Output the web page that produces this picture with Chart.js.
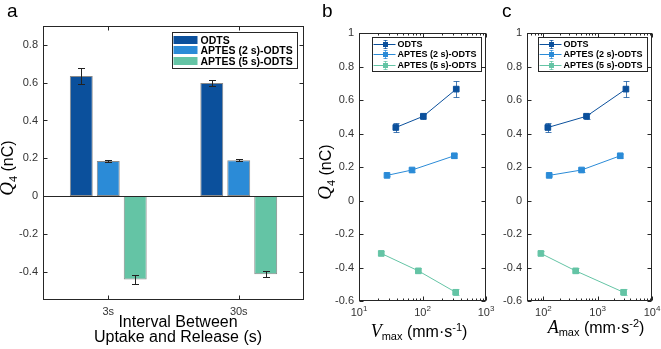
<!DOCTYPE html>
<html>
<head>
<meta charset="utf-8">
<script src="https://cdn.jsdelivr.net/npm/chart.js@4.4.0/dist/chart.umd.min.js"></script>
<style>
  html, body { margin: 0; padding: 0; background: #fff; }
  #wrap { position: relative; width: 661px; height: 349px; overflow: hidden; font-family: "Liberation Sans", Arial, sans-serif; }
  .panel { position: absolute; top: 0; height: 349px; }
  .tag { position: absolute; font-size: 19px; line-height: 19px; color: #000; }
</style>
</head>
<body>
<div id="wrap">
  <div class="panel" style="left:0;width:330px"><canvas id="chartA"></canvas></div>
  <div class="panel" style="left:312px;width:183px"><canvas id="chartB"></canvas></div>
  <div class="panel" style="left:495px;width:166px"><canvas id="chartC"></canvas></div>
  <div class="tag" style="left:7px;top:1px">a</div>
  <div class="tag" style="left:322px;top:1px">b</div>
  <div class="tag" style="left:502px;top:1px">c</div>
</div>
<script>
// ---- data ----
const intervals = ['3s', '30s'];
const seriesNames = ['ODTS', 'APTES (2 s)-ODTS', 'APTES (5 s)-ODTS'];

const barOdts = [0.636, 0.598];
const barOdtsErr = [0.042, 0.017];
const barAptes2 = [0.185, 0.189];
const barAptes2Err = [0.006, 0.005];
const barAptes5 = [-0.441, -0.414];
const barAptes5Err = [0.022, 0.015];

const vmaxOdts = [38, 103, 340];
const vmaxAptes2 = [27.6, 68.4, 317];
const vmaxAptes5 = [22.4, 86, 333];

const amaxOdts = [121, 623, 3310];
const amaxAptes2 = [128, 505, 2605];
const amaxAptes5 = [90, 393, 2994];

const q4Odts = [0.436, 0.503, 0.665];
const q4OdtsErr = [0.027, 0.015, 0.049];
const q4Aptes2 = [0.15, 0.182, 0.267];
const q4Aptes2Err = [0.006, 0.014, 0.013];
const q4Aptes5 = [-0.316, -0.42, -0.548];
const q4Aptes5Err = [0.012, 0.015, 0.018];

const yTicksBar = [-0.4, -0.2, 0, 0.2, 0.4, 0.6, 0.8];
const yTicksLine = [-0.6, -0.4, -0.2, 0, 0.2, 0.4, 0.6, 0.8, 1];

const colOdts = '#0b509c';
const colAptes2 = '#2b8bd7';
const colAptes5 = '#64c4a5';

const SANS = '"Liberation Sans", Arial, sans-serif';
const SERIF = '"Liberation Serif", "Times New Roman", serif';
const AXIS = '#262626';
const TICK_TXT = '#333';

// text made of pieces (italic letter, sub/superscripts), centred on cx
function drawParts(ctx, parts, cx, baseY, angle) {
  ctx.save();
  ctx.translate(cx, baseY);
  ctx.rotate(angle || 0);
  let w = 0;
  parts.forEach(p => { ctx.font = p.font; p.w = ctx.measureText(p.text).width; w += p.w; });
  let x = -w / 2;
  ctx.textBaseline = 'alphabetic';
  ctx.textAlign = 'left';
  parts.forEach(p => {
    ctx.font = p.font;
    ctx.fillStyle = p.color || '#000';
    ctx.fillText(p.text, x, p.dy || 0);
    x += p.w;
  });
  ctx.restore();
}

const q4Title = [
  {text: 'Q', font: `italic 19px ${SERIF}`},
  {text: '4', font: `12px ${SERIF}`, dy: 4},
  {text: ' (nC)', font: `16px ${SANS}`}
];

// box around the axes with inward ticks, matlab style
function boxAxes(cfg) {
  return {
    id: 'boxAxes',
    afterDatasetsDraw(chart) {
      const {ctx, chartArea: ca} = chart;
      const xs = chart.scales.x, ys = chart.scales.y;
      const L = Math.round(ca.left) + 0.5, R = Math.round(ca.right) - 0.5;
      const T = Math.round(ca.top) + 0.5, B = Math.round(ca.bottom) - 0.5;
      ctx.save();
      ctx.strokeStyle = AXIS;
      ctx.lineWidth = 1;
      ctx.beginPath();
      if (cfg.zeroLine) {
        const z = Math.round(ys.getPixelForValue(0)) + 0.5;
        ctx.moveTo(L, z); ctx.lineTo(R, z);
      }
      ys.ticks.forEach(t => {
        const py = Math.round(ys.getPixelForValue(t.value)) + 0.5;
        ctx.moveTo(L, py); ctx.lineTo(L + cfg.tick, py);
        ctx.moveTo(R, py); ctx.lineTo(R - cfg.tick, py);
      });
      const xt = [];
      if (xs.type === 'logarithmic') {
        const e0 = Math.floor(Math.log10(xs.min)), e1 = Math.ceil(Math.log10(xs.max));
        for (let e = e0; e <= e1; e++) {
          for (let k = 1; k < 10; k++) {
            const v = k * Math.pow(10, e);
            if (v >= xs.min * 0.999 && v <= xs.max * 1.001) xt.push([v, k === 1]);
          }
        }
      } else {
        xs.ticks.forEach((t, i) => xt.push([i, true]));
      }
      xt.forEach(([v, major]) => {
        const len = major ? cfg.tick : cfg.minor;
        const px = Math.round(xs.getPixelForValue(v)) + 0.5;
        ctx.moveTo(px, T); ctx.lineTo(px, T + len);
        ctx.moveTo(px, B); ctx.lineTo(px, B - len);
      });
      ctx.stroke();
      ctx.strokeRect(L, T, R - L, B - T);
      if (xs.type === 'logarithmic') {
        xt.filter(d => d[1]).forEach(([v]) => {
          const e = Math.round(Math.log10(v));
          drawParts(ctx, [
            {text: '10', font: `11px ${SANS}`, color: TICK_TXT},
            {text: String(e), font: `8px ${SANS}`, dy: -5, color: TICK_TXT}
          ], xs.getPixelForValue(v), ca.bottom + cfg.labelGap);
        });
      }
      ctx.restore();
    }
  };
}

function errorBars(color, cap, alpha) {
  return {
    id: 'errorBars',
    afterDatasetsDraw(chart) {
      const ctx = chart.ctx, ys = chart.scales.y;
      chart.data.datasets.forEach((ds, i) => {
        const meta = chart.getDatasetMeta(i);
        ctx.save();
        ctx.strokeStyle = color || ds.borderColor;
        ctx.globalAlpha = alpha;
        ctx.lineWidth = 1;
        ctx.beginPath();
        meta.data.forEach((el, j) => {
          const d = ds.data[j];
          const v = typeof d === 'object' ? d.y : d;
          const e = ds.errors[j];
          const px = Math.round(el.x) + 0.5;
          const t = Math.round(ys.getPixelForValue(v + e)) + 0.5;
          const b = Math.round(ys.getPixelForValue(v - e)) + 0.5;
          ctx.moveTo(px, t); ctx.lineTo(px, b);
          ctx.moveTo(px - cap, t); ctx.lineTo(px + cap, t);
          ctx.moveTo(px - cap, b); ctx.lineTo(px + cap, b);
        });
        ctx.stroke();
        ctx.restore();
      });
    }
  };
}

function boxLegend(cfg) {
  return {
    id: 'boxLegend',
    afterDraw(chart) {
      const {ctx, chartArea: ca} = chart;
      const items = chart.data.datasets;
      ctx.save();
      ctx.font = cfg.font;
      const textW = Math.max(...items.map(d => ctx.measureText(d.label).width));
      const w = Math.round(cfg.padL + cfg.sampleW + cfg.gap + textW + cfg.padR);
      const h = Math.round(items.length * cfg.rowH + cfg.padV * 2);
      const x0 = Math.round(ca.right - cfg.right - w) + 0.5;
      const y0 = Math.round(ca.top + cfg.top) + 0.5;
      ctx.fillStyle = '#fff';
      ctx.fillRect(x0, y0, w, h);
      ctx.strokeStyle = AXIS;
      ctx.lineWidth = 1;
      ctx.strokeRect(x0, y0, w, h);
      items.forEach((d, i) => {
        const cy = Math.round(y0 + cfg.padV + cfg.rowH * (i + 0.5));
        const sx = x0 + cfg.padL;
        if (cfg.kind === 'bar') {
          ctx.fillStyle = d.backgroundColor;
          ctx.fillRect(sx, cy - cfg.swatchH / 2, cfg.sampleW, cfg.swatchH);
        } else {
          const mx = Math.round(sx + cfg.sampleW / 2) + 0.5;
          ctx.strokeStyle = d.borderColor;
          ctx.beginPath();
          ctx.moveTo(sx, cy + 0.5); ctx.lineTo(sx + cfg.sampleW, cy + 0.5);
          ctx.stroke();
          ctx.globalAlpha = 0.75;
          ctx.beginPath();
          ctx.moveTo(mx, cy - 4); ctx.lineTo(mx, cy + 5);
          ctx.moveTo(mx - 2, cy - 3.5); ctx.lineTo(mx + 2, cy - 3.5);
          ctx.moveTo(mx - 2, cy + 4.5); ctx.lineTo(mx + 2, cy + 4.5);
          ctx.stroke();
          ctx.globalAlpha = 1;
          ctx.fillStyle = d.borderColor;
          ctx.fillRect(mx - 2.5, cy - 2, 5, 5);
        }
        ctx.fillStyle = '#000';
        ctx.font = cfg.font;
        ctx.textBaseline = 'middle';
        ctx.fillText(d.label, sx + cfg.sampleW + cfg.gap, cy + 1);
      });
      ctx.restore();
    }
  };
}

function axisTitles(list) {
  return {
    id: 'axisTitles',
    afterDraw(chart) {
      list.forEach(t => drawParts(chart.ctx, t.parts, t.x, t.y, t.angle));
    }
  };
}

function yScale(ticks, min, max, width) {
  return {
    type: 'linear',
    min: min,
    max: max,
    afterBuildTicks: s => { s.ticks = ticks.map(v => ({value: v})); },
    afterFit: s => { s.width = width; },
    grid: {display: false, drawTicks: false},
    border: {display: false},
    ticks: {
      padding: 5,
      color: TICK_TXT,
      font: {family: SANS, size: 11},
      callback: v => String(v)
    }
  };
}

// ---- panel a ----
new Chart(document.getElementById('chartA'), {
  type: 'bar',
  data: {
    labels: intervals,
    datasets: [
      {label: seriesNames[0], data: barOdts, errors: barOdtsErr, backgroundColor: colOdts},
      {label: seriesNames[1], data: barAptes2, errors: barAptes2Err, backgroundColor: colAptes2},
      {label: seriesNames[2], data: barAptes5, errors: barAptes5Err, backgroundColor: colAptes5}
    ]
  },
  options: {
    responsive: true,
    maintainAspectRatio: false,
    animation: false,
    devicePixelRatio: 1,
    layout: {padding: {top: 26, right: 26, left: 0, bottom: 0}},
    datasets: {
      bar: {
        categoryPercentage: 0.62,
        barPercentage: 0.85,
        borderColor: '#8a8a8a',
        borderWidth: 1,
        borderSkipped: false
      }
    },
    scales: {
      x: {
        type: 'category',
        afterFit: s => { s.height = 49; },
        grid: {display: false, drawTicks: false},
        border: {display: false},
        ticks: {padding: 5, color: TICK_TXT, font: {family: SANS, size: 11}}
      },
      y: yScale(yTicksBar, -0.55, 0.9, 43)
    },
    plugins: {legend: {display: false}, tooltip: {enabled: false}}
  },
  plugins: [
    boxAxes({tick: 4, minor: 2, zeroLine: true}),
    errorBars('#222', 3.5, 1),
    boxLegend({kind: 'bar', font: `bold 10.5px ${SANS}`, right: 7, top: 6, rowH: 10.5, padV: 2,
      padL: 1, sampleW: 24, swatchH: 8, gap: 3, padR: 5}),
    axisTitles([
      {parts: q4Title, x: 13, y: 168, angle: -Math.PI / 2},
      {parts: [{text: 'Interval Between', font: `16px ${SANS}`}], x: 178, y: 327},
      {parts: [{text: 'Uptake and Release (s)', font: `16px ${SANS}`}], x: 178, y: 342}
    ])
  ]
});

// ---- panels b and c ----
function lineSet(label, xs, ys, errs, color) {
  return {
    label: label,
    data: xs.map((x, i) => ({x: x, y: ys[i]})),
    errors: errs,
    borderColor: color,
    backgroundColor: color,
    borderWidth: 1,
    pointStyle: 'rect',
    pointRadius: 4,
    tension: 0
  };
}

function lineChart(id, xOdts, xAptes2, xAptes5, xMin, xMax, yAxisW, titles) {
  return new Chart(document.getElementById(id), {
    type: 'line',
    data: {
      datasets: [
        lineSet(seriesNames[0], xOdts, q4Odts, q4OdtsErr, colOdts),
        lineSet(seriesNames[1], xAptes2, q4Aptes2, q4Aptes2Err, colAptes2),
        lineSet(seriesNames[2], xAptes5, q4Aptes5, q4Aptes5Err, colAptes5)
      ]
    },
    options: {
      responsive: true,
      maintainAspectRatio: false,
      animation: false,
      devicePixelRatio: 1,
      layout: {padding: {top: 33, right: 9, left: 0, bottom: 0}},
      scales: {
        x: {
          type: 'logarithmic',
          min: xMin,
          max: xMax,
          afterFit: s => { s.height = 48; },
          grid: {display: false, drawTicks: false},
          border: {display: false},
          ticks: {display: false}
        },
        y: yScale(yTicksLine, -0.6, 1, yAxisW)
      },
      plugins: {legend: {display: false}, tooltip: {enabled: false}}
    },
    plugins: [
      errorBars(null, 3, 0.75),
      boxAxes({tick: 4, minor: 2, labelGap: 15}),
      boxLegend({kind: 'line', font: `bold 9px ${SANS}`, right: 5, top: 4, rowH: 10.5, padV: 1,
        padL: 1, sampleW: 22, gap: 2, padR: 5}),
      axisTitles(titles)
    ]
  });
}

lineChart('chartB', vmaxOdts, vmaxAptes2, vmaxAptes5, 10, 1000, 47, [
  {parts: q4Title, x: 19, y: 172, angle: -Math.PI / 2},
  {parts: [
    {text: 'V', font: `italic 18px ${SERIF}`},
    {text: 'max', font: `11px ${SANS}`, dy: 3},
    {text: ' (mm·s', font: `16px ${SANS}`},
    {text: '-1', font: `11px ${SANS}`, dy: -6},
    {text: ')', font: `16px ${SANS}`}
  ], x: 107, y: 337}
]);

lineChart('chartC', amaxOdts, amaxAptes2, amaxAptes5, 50, 10000, 32, [
  {parts: [
    {text: 'A', font: `italic 18px ${SERIF}`},
    {text: 'max', font: `11px ${SANS}`, dy: 3},
    {text: ' (mm·s', font: `16px ${SANS}`},
    {text: '-2', font: `11px ${SANS}`, dy: -6},
    {text: ')', font: `16px ${SANS}`}
  ], x: 101, y: 333}
]);
</script>
</body>
</html>
